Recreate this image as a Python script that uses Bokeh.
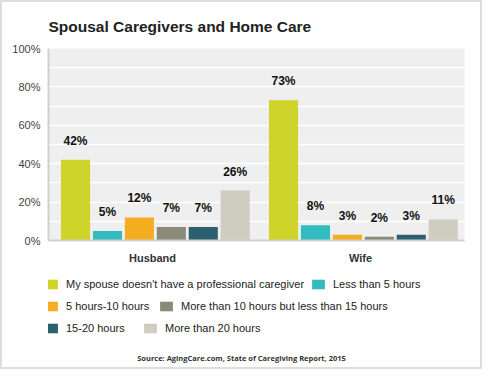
from bokeh.plotting import figure
from bokeh.layouts import column
from bokeh.models import (FactorRange, Range1d, ColumnDataSource, LabelSet, Legend, LegendItem,
                          FixedTicker, Label, CustomJSTickFormatter)
from bokeh.core.properties import value
from bokeh.transform import dodge
from bokeh.embed import file_html
from bokeh.resources import INLINE

groups = ["Husband", "Wife"]
series = ["My spouse doesn't have a professional caregiver", "Less than 5 hours",
          "5 hours-10 hours", "More than 10 hours but less than 15 hours",
          "15-20 hours", "More than 20 hours"]
husband = [42, 5, 12, 7, 7, 26]
wife = [73, 8, 3, 2, 3, 11]
colors = ["#cfd42a", "#33bcbf", "#f5ae22", "#8a8a78", "#2e5f6e", "#cfcdc0"]
y_ticks = [0, 20, 40, 60, 80, 100]
grid_ticks = [0, 10, 20, 30, 40, 50, 60, 70, 80, 90, 100]
title_text = "Spousal Caregivers and Home Care"
source_text = "Source: AgingCare.com, State of Caregiving Report, 2015"

FONT = "Liberation Sans"
W = 478
LEFT = 46

p = figure(width=W, height=268, x_range=FactorRange(*groups), y_range=Range1d(0, 100),
           output_backend="svg", toolbar_location=None,
           min_border_left=LEFT, min_border_right=16, min_border_top=46, min_border_bottom=30)
p.background_fill_color = "#efefef"
p.border_fill_color = "white"
p.outline_line_color = None

p.title.text = title_text
p.title.text_font = FONT
p.title.text_font_size = "15.5px"
p.title.text_font_style = "bold"
p.title.text_color = "#222222"
p.title.align = "left"
p.title.standoff = 27

step = 0.1535
start = -0.37
for i, col in enumerate(colors):
    src = ColumnDataSource(dict(g=groups, v=[husband[i], wife[i]],
                                lab=[f"{husband[i]}%", f"{wife[i]}%"]))
    off = start + i * step
    p.vbar(x=dodge("g", off, range=p.x_range), top="v", width=0.14, source=src,
           fill_color=col, line_color=None)
    p.add_layout(LabelSet(x=dodge("g", off, range=p.x_range), y="v", text="lab", source=src,
                          y_offset=12, text_align="center", text_baseline="bottom",
                          text_font=value(FONT), text_font_size=value("12px"),
                          text_font_style="bold", text_color="#111111"))

p.xgrid.grid_line_color = None
p.ygrid.ticker = FixedTicker(ticks=grid_ticks)
p.ygrid.grid_line_color = "white"
p.ygrid.grid_line_width = 1.5

p.yaxis.ticker = FixedTicker(ticks=y_ticks)
p.yaxis.formatter = CustomJSTickFormatter(code="return tick + '%'")
p.yaxis.major_tick_line_color = None
p.yaxis.minor_tick_line_color = None
p.yaxis.axis_line_color = "#d0d0d0"
p.yaxis.axis_line_width = 2
p.yaxis.major_label_text_font = FONT
p.yaxis.major_label_text_font_size = "11px"
p.yaxis.major_label_text_color = "#444444"
p.yaxis.major_label_standoff = 2

p.xaxis.major_tick_line_color = None
p.xaxis.axis_line_color = "#d0d0d0"
p.xaxis.axis_line_width = 2
p.xaxis.major_label_text_font = FONT
p.xaxis.major_label_text_font_size = "11px"
p.xaxis.major_label_text_font_style = "bold"
p.xaxis.major_label_text_color = "#333333"
p.xaxis.major_label_standoff = 5

# legend + source panel (its frame is aligned with the chart frame by the column)
H2 = 97
q = figure(width=W, height=H2, x_range=Range1d(0, 1), y_range=Range1d(0, 1),
           output_backend="svg", toolbar_location=None,
           min_border_left=LEFT, min_border_right=16, min_border_top=0, min_border_bottom=0)
q.axis.visible = False
q.grid.visible = False
q.outline_line_color = None
q.background_fill_color = "white"
q.border_fill_color = "white"

swatches = []
for col in colors:
    swatches.append(q.vbar(x=0, top=0, width=0, fill_color=col, line_color=None))

label_widths = [244, 92, 76]
row_y = [77, 55, 33]
for row in range(3):
    items = [LegendItem(label=series[2 * row + k], renderers=[swatches[2 * row + k]]) for k in range(2)]
    leg = Legend(items=items, orientation="horizontal", location=(-5, row_y[row]),
                 glyph_width=16, glyph_height=12, label_height=12, label_standoff=7,
                 label_width=label_widths[row], spacing=0, padding=5, margin=0,
                 border_line_color=None, background_fill_alpha=0,
                 label_text_font=FONT, label_text_font_size="11px", label_text_color="#222222")
    q.add_layout(leg, "center")

q.add_layout(Label(x=W / 2 - LEFT, y=9.5, x_units="screen", y_units="screen", text=source_text,
                   text_align="center", text_baseline="middle", text_font="Open Sans",
                   text_font_size="7.5px", text_font_style="bold", text_color="#333333"))

layout = column(p, q, spacing=0)
layout.styles = {"border": "2px solid #dddddd"}

open("out.html", "w").write(file_html(layout, INLINE))
